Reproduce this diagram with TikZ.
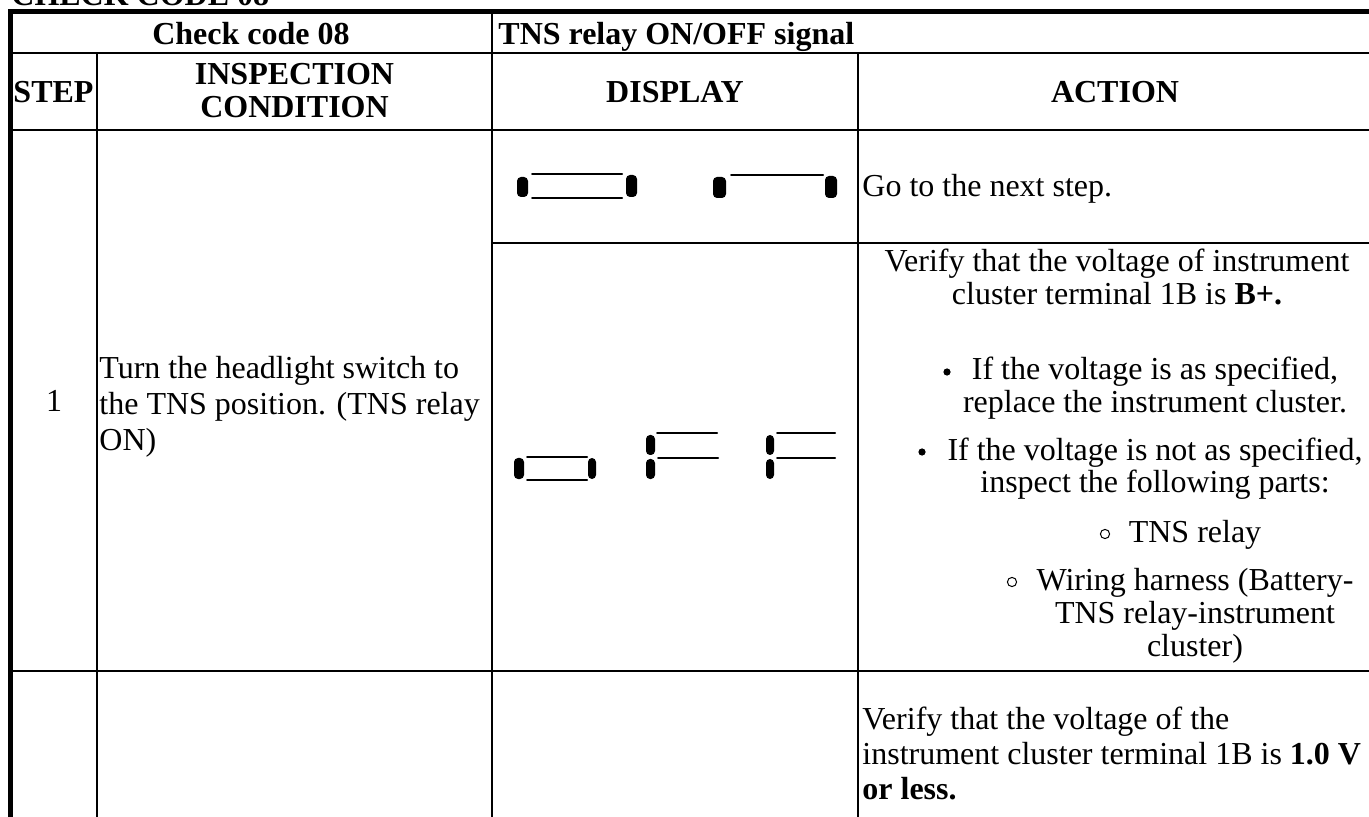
\documentclass[tikz,border=0pt]{standalone}
\usepackage{fontspec}
\setmainfont{Liberation Serif}
\usetikzlibrary{positioning}
\tikzstyle{celltext} = [inner sep=0pt, font=\fontsize{16}{16.5}\selectfont]
\tikzstyle{headtext} = [inner sep=0pt, font=\fontsize{16}{16.5}\selectfont\bfseries]
\tikzstyle{frameline} = [line width=2.2pt]
\tikzstyle{gridline} = [line width=1.1pt]
\tikzstyle{segbar} = [fill=black, rounded corners=2pt]
\tikzstyle{segline} = [line width=1pt, line cap=round]
\tikzstyle{bulletdot} = [circle, fill=black, inner sep=0pt, minimum size=3.6pt]
\tikzstyle{bulletring} = [circle, draw=black, line width=0.5pt, inner sep=0pt, minimum size=4.6pt]

\begin{document}
\begin{tikzpicture}[x=0.5pt, y=-0.5pt]
    \useasboundingbox (0,0) rectangle (1369,817);
    \clip (0,0) rectangle (1369,817);
    % table rules
    \draw[frameline] (10.5,830) -- (10.5,11.5) -- (1380,11.5);
    \draw[gridline] (10.5,53) -- (1380,53);
    \draw[gridline] (10.5,130) -- (1380,130);
    \draw[gridline] (492,243) -- (1380,243);
    \draw[gridline] (10.5,671) -- (1380,671);
    \draw[gridline] (97,53) -- (97,830);
    \draw[gridline] (492,11.5) -- (492,830);
    \draw[gridline] (858,53) -- (858,830);
    % headings
    \node[headtext, anchor=base west] (title) at (11,6) {CHECK CODE 08};
    \node[headtext, anchor=base] (code) at (251,45) {Check code 08};
    \node[headtext, anchor=base west] (signal) at (498,45) {TNS relay ON/OFF signal};
    \node[headtext, anchor=base] (step) at (53.5,103) {STEP};
    \node[headtext, anchor=base, align=center] (cond) at (294.5,118) {INSPECTION\\CONDITION};
    \node[headtext, anchor=base] (disp) at (675,103) {DISPLAY};
    \node[headtext, anchor=base] (act) at (1115,103) {ACTION};
    % step 1
    \node[celltext, anchor=base] (num) at (54,412) {1};
    \node[celltext, anchor=base west, align=left, font=\fontsize{16}{18}\selectfont] (turn) at (99,451)
        {Turn the headlight switch to\\the TNS position. (TNS relay\\ON)};
    \node[celltext, anchor=base west] (next) at (862,197) {Go to the next step.};
    \node[celltext, anchor=base, align=center] (verify) at (1117,305)
        {Verify that the voltage of instrument\\cluster terminal 1B is \textbf{B+.}};
    \node[celltext, anchor=base, align=center] (ok) at (1155,413)
        {If the voltage is as specified,\\replace the instrument cluster.};
    \node[celltext, anchor=base, align=center] (notok) at (1155,493)
        {If the voltage is not as specified,\\inspect the following parts:};
    \node[celltext, anchor=base] (relay) at (1195,542) {TNS relay};
    \node[celltext, anchor=base, align=center] (harness) at (1195,656)
        {Wiring harness (Battery-\\TNS relay-instrument\\cluster)};
    \node[bulletdot] (dot1) at (947,372) {};
    \node[bulletdot] (dot2) at (922,452) {};
    \node[bulletring] (ring1) at (1105,534) {};
    \node[bulletring] (ring2) at (1012,582) {};
    % next step
    \node[celltext, anchor=base west, align=left, font=\fontsize{16}{17.5}\selectfont] (verify2) at (862,799)
        {Verify that the voltage of the\\instrument cluster terminal 1B is \textbf{1.0 V}\\\textbf{or less.}};
    % display: on
    \fill[segbar] (517,177) rectangle (528,197);
    \draw[segline] (532,174) -- (622,174);
    \draw[segline] (532,198) -- (622,198);
    \fill[segbar] (626,175) rectangle (637,197);
    \fill[segbar] (713,177) rectangle (726,198);
    \draw[segline] (731,175) -- (823,175);
    \fill[segbar] (825,176) rectangle (837,198);
    % display: oFF
    \fill[segbar] (514,458) rectangle (524,479);
    \draw[segline] (527,457) -- (587,457);
    \draw[segline] (527,480) -- (587,480);
    \fill[segbar] (588,458) rectangle (596,479);
    \fill[segbar] (646,435) rectangle (655,455);
    \fill[segbar] (646,459) rectangle (655,479);
    \draw[segline] (657,433) -- (717,433);
    \draw[segline] (658,458) -- (718,458);
    \fill[segbar] (766,435) rectangle (774,455);
    \fill[segbar] (766,459) rectangle (774,479);
    \draw[segline] (777,433) -- (835,433);
    \draw[segline] (777,458) -- (835,458);
\end{tikzpicture}
\end{document}
